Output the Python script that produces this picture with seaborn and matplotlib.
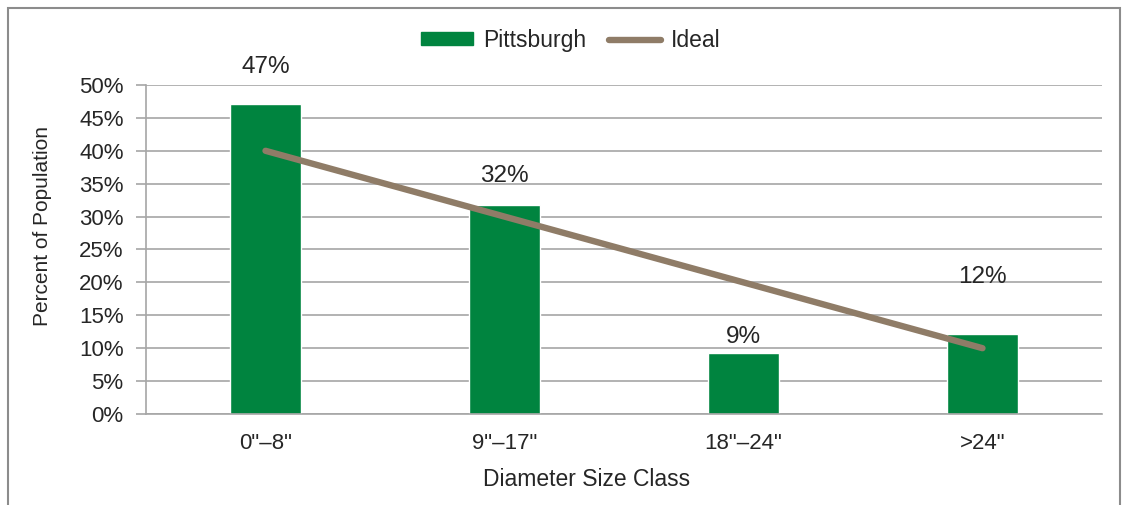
import numpy as np
import pandas as pd
import seaborn as sns
import matplotlib.pyplot as plt
from matplotlib.patches import Patch, Rectangle
from matplotlib.lines import Line2D
from matplotlib.ticker import PercentFormatter

classes = ['0"\u20138"', '9"\u201317"', '18"\u201324"', '>24"']
pittsburgh = [47.1, 31.7, 9.2, 12.1]
ideal = [40, 30, 20, 10]
bar_labels = ['47%', '32%', '9%', '12%']
label_pad = [27, 21, 12, 41]  # points from bar top to label centre

green = '#00843F'
brown = '#8F7C67'

sns.set_style('white')
plt.rcParams['font.family'] = ['Liberation Sans', 'DejaVu Sans']

fig = plt.figure(figsize=(11.23, 5.05), dpi=100)
ax = fig.add_axes([146 / 1123, 0.1802, 956 / 1123, 0.6515])

df = pd.DataFrame({'cls': classes, 'pct': pittsburgh, 'ideal': ideal})
sns.barplot(data=df, x='cls', y='pct', color=green, width=0.3,
            saturation=1, ax=ax, zorder=2)
sns.lineplot(data=df, x='cls', y='ideal', color=brown, lw=4.6,
             solid_capstyle='round', ax=ax, zorder=3)

for i, (v, t, p) in enumerate(zip(pittsburgh, bar_labels, label_pad)):
    ax.annotate(t, (i, v), xytext=(0, p), textcoords='offset points',
                ha='center', va='center', fontsize=17.5)

ax.set_ylim(0, 50)
ax.set_xlim(-0.5, 3.5)
ax.set_yticks(np.arange(0, 51, 5))
ax.yaxis.set_major_formatter(PercentFormatter(decimals=0))
ax.grid(axis='y', color='#A6A6A6', lw=1.2, zorder=0)
ax.set_axisbelow(True)
for s in ['top', 'right']:
    ax.spines[s].set_visible(False)
for s in ['left', 'bottom']:
    ax.spines[s].set_color('#A6A6A6')
    ax.spines[s].set_linewidth(1.2)
ax.tick_params(axis='y', left=True, length=7.2, width=1.2, color='#A6A6A6',
               labelsize=16, pad=9)
ax.tick_params(axis='x', bottom=False, labelsize=16, pad=10)
ax.set_xlabel('Diameter Size Class', fontsize=16.5, labelpad=10)
ax.set_ylabel('Percent of Population', fontsize=15, labelpad=19)
# axis titles sit a little off-centre in the original
ax.xaxis.label.set_x(0.461)
ax.yaxis.label.set_y(0.57)

handles = [Patch(color=green, label='Pittsburgh'),
           Line2D([], [], color=brown, lw=4.6, solid_capstyle='round', label='Ideal')]
fig.legend(handles=handles, loc='center', bbox_to_anchor=(0.508, 0.92), ncol=2,
           frameon=False, fontsize=16.5, handlelength=2.3, handleheight=0.5,
           handletextpad=0.4, columnspacing=1.0)

fig.patches.append(Rectangle((8 / 1123, -0.05), 1112 / 1123, 1.05 - 8 / 505,
                             transform=fig.transFigure, fill=False,
                             edgecolor='#8C8C8C', lw=1.5))

fig.savefig('out.png', dpi=100, facecolor='white')
